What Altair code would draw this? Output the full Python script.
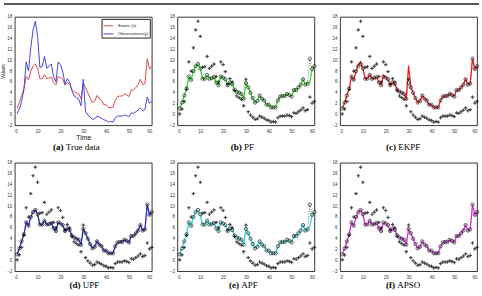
import altair as alt
import pandas as pd

# Time steps and the simulated series
steps = list(range(1, 61))

states = [1.1, 2.2, 3.5, 4.8, 7.0, 6.4, 8.0, 8.9, 9.3, 8.5,
          6.6, 6.6, 7.3, 6.6, 6.7, 6.9, 5.9, 5.4, 7.0, 6.8,
          6.5, 5.4, 5.9, 5.6, 4.6, 4.2, 4.0, 3.8, 2.9, 5.8,
          5.0, 4.0, 3.0, 2.2, 2.5, 3.5, 2.9, 2.6, 1.8, 1.8,
          1.3, 1.3, 1.3, 2.6, 3.3, 3.4, 3.4, 3.8, 3.6, 3.3,
          4.5, 4.5, 5.0, 5.5, 6.5, 5.5, 5.7, 10.3, 8.4, 8.9]

observations = [0.1, 1.0, 2.4, 4.6, 9.7, 8.0, 12.3, 15.6, 17.2, 14.4,
                8.7, 8.8, 10.7, 8.5, 8.9, 9.3, 7.0, 6.0, 9.7, 9.2,
                7.9, 5.6, 6.6, 6.0, 4.4, 3.4, 3.1, 2.8, 1.6, 6.5,
                0.5, -0.1, -0.5, -0.9, -0.8, -0.3, -0.5, -0.7, -1.0, -1.1,
                -1.4, -1.3, -1.4, -0.6, -0.3, -0.3, -0.3, -0.1, -0.2, -0.4,
                0.3, 0.2, 0.5, 0.8, 1.2, 0.7, 0.9, 3.2, 2.1, 2.4]

# Filter estimates of the state
est_pf = [1.1, 2.1, 3.4, 4.8, 6.9, 6.4, 7.9, 8.9, 9.3, 8.5,
          6.6, 6.6, 7.2, 6.6, 6.7, 6.9, 5.9, 5.4, 7.0, 6.8,
          6.5, 5.4, 5.9, 5.6, 4.6, 4.2, 4.0, 3.8, 2.9, 5.8,
          5.0, 4.0, 3.0, 2.2, 2.5, 3.5, 2.9, 2.6, 1.8, 1.8,
          1.3, 1.3, 1.3, 2.6, 3.3, 3.4, 3.4, 3.8, 3.6, 3.3,
          4.5, 4.5, 5.0, 5.5, 6.5, 5.5, 5.7, 6.0, 8.3, 8.9]

est_ekpf = [1.1, 2.2, 3.5, 4.8, 7.0, 6.4, 8.0, 9.2, 9.7, 8.5,
            6.6, 6.6, 7.3, 6.6, 6.7, 6.9, 5.9, 5.4, 7.2, 6.8,
            6.5, 5.4, 5.9, 5.6, 4.6, 4.2, 4.0, 3.8, 2.9, 9.0,
            5.0, 4.0, 3.0, 2.2, 2.5, 3.5, 2.9, 2.6, 1.8, 1.8,
            1.3, 1.3, 1.3, 2.6, 3.3, 3.4, 3.4, 3.8, 3.6, 3.3,
            4.5, 4.5, 5.0, 5.5, 6.5, 5.5, 5.7, 10.3, 8.4, 8.9]

est_upf = [1.1, 2.2, 3.5, 4.8, 7.0, 6.4, 8.0, 8.9, 9.3, 8.5,
           6.6, 6.6, 7.3, 6.6, 6.7, 6.9, 5.9, 5.4, 7.0, 6.8,
           6.5, 5.4, 5.9, 5.6, 4.6, 4.2, 4.0, 3.8, 2.9, 5.8,
           5.0, 4.0, 3.0, 2.2, 2.5, 3.5, 2.9, 2.6, 1.8, 1.8,
           1.3, 1.3, 1.3, 2.6, 3.3, 3.4, 3.4, 3.8, 3.6, 3.3,
           4.5, 4.5, 5.0, 5.5, 6.5, 5.5, 5.7, 10.3, 8.4, 8.9]

est_apf = [1.1, 2.2, 3.5, 4.8, 7.0, 6.4, 8.0, 8.9, 9.3, 8.5,
           6.6, 6.6, 7.3, 6.6, 6.7, 6.9, 5.9, 5.4, 7.0, 6.8,
           6.5, 5.4, 5.9, 5.6, 4.6, 4.2, 4.0, 3.8, 2.9, 5.8,
           5.0, 4.0, 3.0, 2.2, 2.5, 3.5, 2.9, 2.6, 1.8, 1.8,
           1.3, 1.3, 1.3, 2.6, 3.3, 3.4, 3.4, 3.8, 3.6, 3.3,
           4.5, 4.5, 5.0, 5.5, 6.5, 5.5, 5.7, 6.3, 8.3, 8.9]

est_apso = [1.1, 2.2, 3.5, 4.8, 7.0, 6.4, 8.0, 8.9, 9.3, 8.5,
            6.6, 6.6, 7.3, 6.6, 6.7, 6.9, 5.9, 5.4, 7.0, 6.8,
            6.5, 5.4, 5.9, 5.6, 4.6, 4.2, 4.0, 3.8, 2.9, 5.8,
            5.0, 4.0, 3.0, 2.2, 2.5, 3.5, 2.9, 2.6, 1.8, 1.8,
            1.3, 1.3, 1.3, 2.6, 3.3, 3.4, 3.4, 3.8, 3.6, 3.3,
            4.5, 4.5, 5.0, 5.5, 6.5, 5.5, 5.7, 10.3, 8.4, 8.9]

x_ticks = [0, 10, 20, 30, 40, 50, 60]
y_ticks = [-2, 0, 2, 4, 6, 8, 10, 12, 14, 16, 18]
legend_names = ["States (x)", "Observations(y)"]
legend_colors = ["#e04848", "#4444dd"]

W, H = 139, 110
SANS = "Liberation Sans"
SERIF = "Liberation Serif"
CAP_SIZE = 9.2

x_scale = alt.Scale(domain=[0, 60], nice=False, zero=False)
y_scale = alt.Scale(domain=[-2, 18], nice=False, zero=False)


def x_axis(title=None):
    return alt.Axis(values=x_ticks, grid=False, domain=False, ticks=False,
                    labelFont=SANS, labelFontSize=4.6, labelColor="#333",
                    labelPadding=3, title=title, titleFont=SANS,
                    titleFontSize=7, titleFontWeight="normal",
                    titleColor="#111111", titlePadding=0.5)


def y_axis(title=None):
    return alt.Axis(values=y_ticks, grid=False, domain=False, ticks=False,
                    labelFont=SANS, labelFontSize=4.6, labelColor="#333",
                    labelPadding=3, title=title, titleFont=SANS,
                    titleFontSize=5, titleFontWeight="normal",
                    titleColor="#111111", titlePadding=1)


def caption(tag, text, tag_x, text_x, y):
    cdf = pd.DataFrame({"tag": [tag], "text": [text]})
    base = alt.Chart(cdf)
    t1 = base.mark_text(align="left", baseline="middle", font=SERIF,
                        fontSize=CAP_SIZE, fontWeight="bold",
                        color="black").encode(
        x=alt.value(tag_x), y=alt.value(y), text="tag:N")
    t2 = base.mark_text(align="left", baseline="middle", font=SERIF,
                        fontSize=CAP_SIZE, fontWeight="normal",
                        color="black").encode(
        x=alt.value(text_x), y=alt.value(y), text="text:N")
    return t1 + t2


# Panel (a): true states and observations
long_rows = []
for name, series in zip(legend_names, [states, observations]):
    for t, v in zip(steps, series):
        long_rows.append({"t": t, "value": v, "series": name})
true_df = pd.DataFrame(long_rows)

true_lines = alt.Chart(true_df).mark_line(strokeWidth=1).encode(
    x=alt.X("t:Q", scale=x_scale, axis=x_axis("Time")),
    y=alt.Y("value:Q", scale=y_scale, axis=y_axis("Values")),
    color=alt.Color("series:N",
                    scale=alt.Scale(domain=legend_names, range=legend_colors),
                    sort=legend_names,
                    legend=alt.Legend(orient="top-right", offset=2, title=None,
                                      symbolType="stroke", symbolSize=100,
                                      symbolStrokeWidth=1, labelFont=SANS,
                                      labelFontSize=4.4, labelColor="#222",
                                      strokeColor="#222", fillColor="white",
                                      padding=1.5, rowPadding=0.3,
                                      labelOffset=4)),
)

page_rule = alt.Chart(pd.DataFrame({"k": [0]})).mark_rule(
    color="#222", strokeWidth=1.5).encode(
    x=alt.value(-11), x2=alt.value(471), y=alt.value(-13))

panel_a = alt.layer(true_lines, page_rule,
                    caption("(a)", "True data", 38.7, 51.7, 132)).properties(
    width=W, height=H)


def filter_panel(est, color, tag, name, tag_x, text_x, cap_y):
    df = pd.DataFrame({"t": steps, "state": states, "obs": observations,
                       "est": est})
    base = alt.Chart(df)
    xe = alt.X("t:Q", scale=x_scale, axis=x_axis())
    dotted = base.mark_line(color="#333", strokeDash=[1, 1.5],
                            strokeWidth=0.7).encode(
        x=xe, y=alt.Y("state:Q", scale=y_scale, axis=y_axis()))
    line = base.mark_line(color=color, strokeWidth=1.3).encode(
        x=xe, y=alt.Y("est:Q", scale=y_scale, axis=y_axis()))
    circles = base.mark_point(shape="circle", filled=False, size=11,
                              color="#1a1a1a", strokeWidth=1.0).encode(
        x=xe, y=alt.Y("state:Q", scale=y_scale, axis=y_axis()))
    plus = base.mark_point(shape="M-1,0L1,0M0,-1L0,1", filled=False,
                           size=12, color="black", strokeWidth=1.2).encode(
        x=xe, y=alt.Y("obs:Q", scale=y_scale, axis=y_axis()))
    return alt.layer(dotted, line, circles, plus,
                     caption(tag, name, tag_x, text_x, cap_y)).properties(
        width=W, height=H)


panel_b = filter_panel(est_pf, "#33dd33", "(b)", "PF", 54.1, 67.6, 132)
panel_c = filter_panel(est_ekpf, "#e82020", "(c)", "EKPF", 46.5, 59, 132)
panel_d = filter_panel(est_upf, "#2a2ab8", "(d)", "UPF", 55.5, 69, 124)
panel_e = filter_panel(est_apf, "#33dddd", "(e)", "APF", 52.3, 64.8, 124)
panel_f = filter_panel(est_apso, "#dd33dd", "(f)", "APSO", 46.5, 58, 124)

chart = alt.concat(panel_a, panel_b, panel_c, panel_d, panel_e, panel_f,
                   columns=3, spacing={"row": 38, "column": 26},
                   bounds="flush").resolve_scale(
    color="independent").properties(
    padding={"left": 0, "top": 0, "right": 0, "bottom": 0},
    background="white",
).configure_view(stroke="black", strokeWidth=0.8)

chart.save("out.html", embed_options={"renderer": "svg", "actions": False})
